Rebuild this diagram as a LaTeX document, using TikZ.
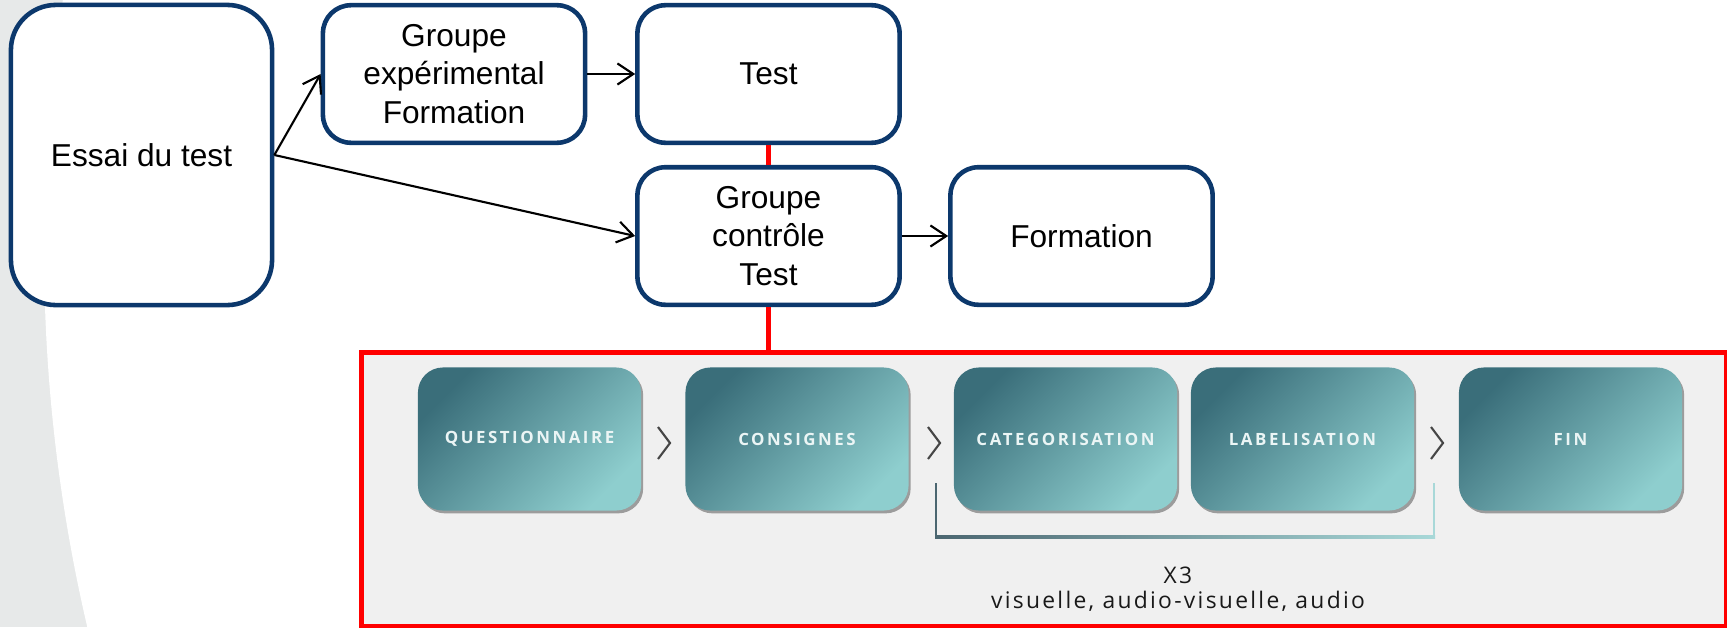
\documentclass[tikz,border=0pt]{standalone}
\usepackage{fontspec}
\setmainfont{Liberation Sans}
\newfontfamily\stepfont[LetterSpace=15]{Open Sans}
\newfontfamily\notefont[LetterSpace=10]{Open Sans}
\usetikzlibrary{arrows.meta,shadows}
\definecolor{navy}{RGB}{12,56,108}
\definecolor{bggray}{RGB}{231,233,233}
\definecolor{panel}{RGB}{240,240,240}
\definecolor{tealdark}{RGB}{58,110,122}
\definecolor{teallight}{RGB}{142,206,206}
\definecolor{stepwhite}{RGB}{235,245,245}
\definecolor{chev}{RGB}{70,70,70}
\definecolor{brdark}{RGB}{75,102,112}
\definecolor{brlight}{RGB}{168,216,216}
\definecolor{notetext}{RGB}{25,25,25}
\begin{document}
\begin{tikzpicture}[x=0.01cm,y=-0.01cm,
  box/.style={draw=navy, line width=1.3pt, fill=white, rounded corners=0.28cm,
    align=center, font=\fontsize{9}{10.9}\selectfont, inner sep=0pt,
    minimum width=2.62cm, minimum height=1.375cm},
  arr/.style={-{Straight Barb[length=4.5pt,width=6pt]}, line width=0.6pt},
  redln/.style={draw=red, line width=1.3pt},
  stepbox/.style={rounded corners=0.25cm, top color=tealdark, bottom color=teallight,
    shading angle=45, minimum width=2.23cm, minimum height=1.43cm, inner sep=0pt,
    text=stepwhite, font=\stepfont\bfseries\fontsize{4.8}{6}\selectfont,
    drop shadow={shadow xshift=0.6pt, shadow yshift=-0.8pt, opacity=0.35, fill=black}},
  chevline/.style={draw=chev, line width=0.6pt},
]
\useasboundingbox (0,0) rectangle (1727,627);
\fill[bggray] (0,0) rectangle (1727,627);
\begin{scope}
  \clip (0,0) rectangle (1727,627);
  \fill[white] (1695,250) circle[radius=16.5cm];
\end{scope}

% top part
\node[box, rounded corners=0.45cm, minimum width=2.61cm, minimum height=3.0cm] (essai) at (141.5,155) {Essai du test};
\node[box] (ge) at (454,74) {Groupe\\expérimental\\Formation};
\node[box] (test) at (768.5,74) {Test};
\node[box] (gc) at (768.5,236) {Groupe\\contrôle\\Test};
\node[box] (form) at (1081.5,236) {Formation};

\draw[arr] (essai.east) -- (ge.west);
\draw[arr] (essai.east) -- (gc.west);
\draw[arr] (ge) -- (test);
\draw[arr] (gc) -- (form);

% lower panel
\node[draw=red, line width=1.4pt, fill=panel, minimum width=13.64cm, minimum height=2.74cm,
  inner sep=0pt, anchor=north west] (frame) at (359,350) {};
\draw[redln] (test.south) -- (gc.north);
\draw[redln] (gc.south) -- (gc.south |- frame.north);

\node[stepbox] (q) at (529.5,439) {QUESTIONNAIRE};
\node[stepbox] (c) at (797,439) {CONSIGNES};
\node[stepbox] (cat) at (1065.5,439) {CATEGORISATION};
\node[stepbox] (lab) at (1302.5,439) {LABELISATION};
\node[stepbox] (fin) at (1570.5,439) {FIN};

\draw[chevline] (658,427) -- (670,443) -- (658,459);
\draw[chevline] (928,427) -- (940,443) -- (928,459);
\draw[chevline] (1431,427) -- (1443,443) -- (1431,459);

\coordinate (bl) at (936,483);
\coordinate (br) at (1434,483);
\draw[brdark, line width=0.6pt] (bl) -- (936,537);
\shade[left color=brdark, right color=brlight] (935,535.8) rectangle (1435,538.2);
\draw[brlight, line width=0.6pt] (br) -- (1434,537);

\node[font=\notefont\fontsize{6.5}{7.1}\selectfont, align=center, text=notetext, inner sep=0pt] (note) at (1178,589) {X3\\visuelle, audio-visuelle, audio};
\end{tikzpicture}
\end{document}
